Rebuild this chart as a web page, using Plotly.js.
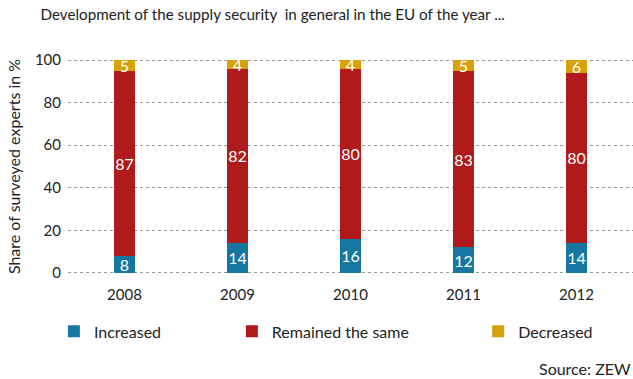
<!DOCTYPE html>
<html>
<head>
<meta charset="utf-8">
<script src="https://cdn.plot.ly/plotly-3.0.1.min.js"></script>
<style>html,body{margin:0;padding:0;background:#fff;}#chart{width:633px;height:379px;}</style>
</head>
<body>
<div id="chart"></div>
<script>
const years = ["2008", "2009", "2010", "2011", "2012"];
const increased = [8, 14, 16, 12, 14];
const remained = [87, 82, 80, 83, 80];
const decreased = [5, 4, 4, 5, 6];
const yTicks = [0, 20, 40, 60, 80, 100];

const FONT = "Lato, 'Open Sans', sans-serif";
const colors = {inc: "#1577a0", rem: "#b01a1c", dec: "#d8a10a"};

function barTrace(name, vals, color, legendId) {
  return {
    type: "bar", name: name, x: years, y: vals,
    marker: {color: color, line: {width: 0}},
    text: vals.map(String), textposition: "inside", insidetextanchor: "middle",
    constraintext: "none", textangle: 0,
    insidetextfont: {color: "#ffffff", size: 16, family: FONT},
    width: 0.19, legend: legendId, showlegend: true, hoverinfo: "none"
  };
}

const data = [
  barTrace("Increased", increased, colors.inc, "legend"),
  barTrace("Remained the same", remained, colors.rem, "legend2"),
  barTrace("Decreased", decreased, colors.dec, "legend3")
];

const legendBase = {orientation: "h", yanchor: "middle", y: -0.26, xanchor: "left",
  font: {size: 16, family: FONT, color: "#222"}, bgcolor: "rgba(0,0,0,0)", itemclick: false};

const layout = {
  width: 633, height: 379,
  margin: {l: 68, r: 0, t: 58, b: 104},
  paper_bgcolor: "#fff", plot_bgcolor: "#fff",
  barmode: "stack", showlegend: true,
  font: {family: FONT, color: "#222", size: 15},
  title: {text: "Development of the supply security  in general in the EU of the year ...",
    x: 0.064, xanchor: "left", y: 0.962, yanchor: "middle", font: {size: 15.2, family: FONT, color: "#222"}},
  xaxis: {type: "category", range: [-0.5, 4.5], showgrid: false, zeroline: false, showline: false,
    ticks: "", ticklabelstandoff: 9, tickfont: {size: 15, family: FONT, color: "#222"}, fixedrange: true},
  yaxis: {range: [-1, 101], tickvals: yTicks, ticktext: yTicks.map(String),
    showgrid: true, gridcolor: "#9a9a9a", griddash: "dot", gridwidth: 1,
    zeroline: false, showline: false, ticks: "", ticklabelstandoff: 6,
    tickfont: {size: 15, family: FONT, color: "#222"},
    title: {text: "Share of surveyed experts in %", font: {size: 16, family: FONT, color: "#222"}, standoff: 10},
    fixedrange: true},
  legend: Object.assign({}, legendBase, {x: -0.025}),
  legend2: Object.assign({}, legendBase, {x: 0.290}),
  legend3: Object.assign({}, legendBase, {x: 0.726}),
  annotations: [{text: "Source: ZEW", xref: "paper", yref: "paper", x: 1.0, y: -0.43,
    xanchor: "right", yanchor: "middle", showarrow: false, font: {size: 16, family: FONT, color: "#222"}}]
};

Plotly.newPlot("chart", data, layout, {displayModeBar: false, staticPlot: true});
</script>
</body>
</html>
